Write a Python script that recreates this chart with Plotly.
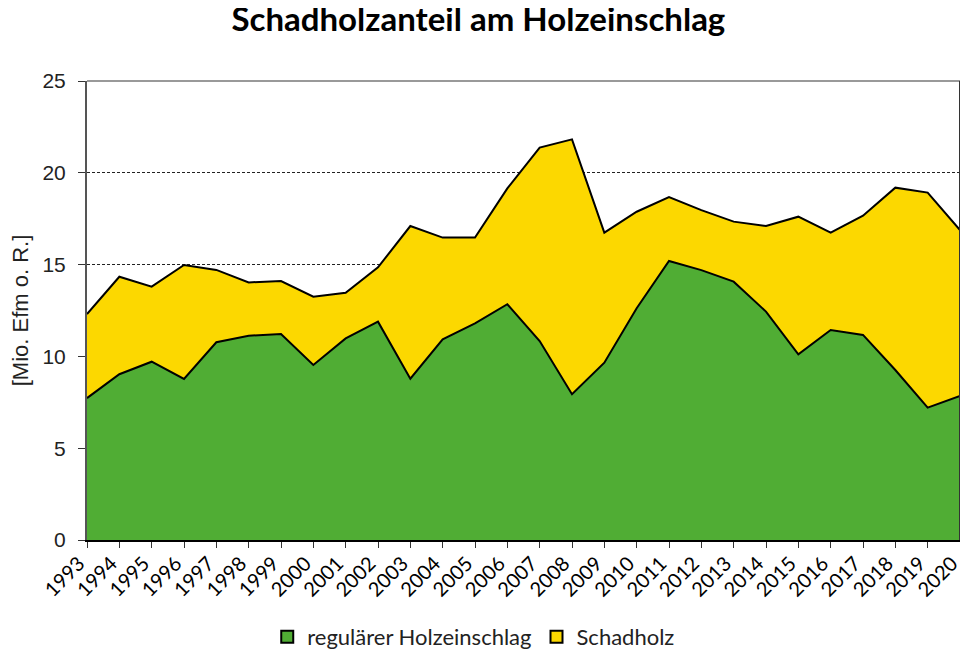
import plotly.graph_objects as go

years = list(range(1993, 2021))
regulaer = [7.73, 9.03, 9.71, 8.77, 10.77, 11.13, 11.22, 9.53, 10.98, 11.89,
            8.79, 10.93, 11.80, 12.84, 10.84, 7.94, 9.66, 12.62, 15.20, 14.70,
            14.07, 12.44, 10.11, 11.44, 11.17, 9.26, 7.21, 7.84]
gesamt = [12.31, 14.34, 13.80, 14.98, 14.71, 14.03, 14.10, 13.25, 13.47, 14.85,
          17.10, 16.47, 16.47, 19.15, 21.37, 21.82, 16.74, 17.88, 18.68, 17.97,
          17.34, 17.10, 17.61, 16.74, 17.66, 19.19, 18.92, 16.88]
schadholz = [round(g - r, 2) for g, r in zip(gesamt, regulaer)]
y_ticks = [0, 5, 10, 15, 20, 25]

GREEN = "#50AD34"
YELLOW = "#FCD800"
CAL = "Lato, Open Sans, sans-serif"
ARI = "Liberation Sans, Arial, sans-serif"

fig = go.Figure()
fig.add_trace(go.Scatter(
    x=years, y=regulaer, name="regulärer Holzeinschlag", stackgroup="one",
    mode="lines", line=dict(color="black", width=2), fillcolor=GREEN,
    showlegend=False))
fig.add_trace(go.Scatter(
    x=years, y=schadholz, name="Schadholz", stackgroup="one",
    mode="lines", line=dict(color="black", width=2), fillcolor=YELLOW,
    showlegend=False))
# legend entries (square swatches)
for nm, col in [("regulärer Holzeinschlag", GREEN), ("Schadholz", YELLOW)]:
    fig.add_trace(go.Bar(x=[None], y=[None], name=nm,
                         marker=dict(color=col, line=dict(color="black", width=2))))

fig.update_layout(
    width=960, height=649,
    paper_bgcolor="white", plot_bgcolor="white",
    margin=dict(l=79, r=8, t=73, b=117, autoexpand=False),
    font=dict(family=ARI, size=16, color="black"),
    title=dict(text="<b>Schadholzanteil am Holzeinschlag</b>",
               x=0.49, xanchor="center", y=1, yanchor="top",
               pad=dict(t=0, b=0),
               font=dict(family=CAL, size=33, color="black")),
    showlegend=True,
    legend=dict(orientation="h", x=0.443, xanchor="center", y=-0.211, yanchor="middle",
                font=dict(family=CAL, size=22, color="#222"), traceorder="normal",
                itemwidth=30),
    xaxis=dict(range=[1993, 2020], tickvals=years, ticktext=[str(y) for y in years],
               tickangle=-45, ticks="outside", ticklen=6, tickcolor="#333",
               ticklabelstandoff=-4, ticklabelshift=-8, ticklabeloverflow="allow",
               automargin=False,
               showgrid=False, showline=True, linecolor="black", linewidth=2,
               tickfont=dict(family=CAL, size=20), zeroline=False),
    yaxis=dict(range=[0, 25], tickvals=y_ticks, ticks="outside", ticklen=7,
               tickcolor="#333", showgrid=True, gridcolor="#222", gridwidth=1,
               griddash="3px,2px", showline=True, linecolor="#555", linewidth=2,
               zeroline=False, tickfont=dict(family=ARI, size=21, color="#222"),
               ticklabelstandoff=8, automargin=False,
               title=dict(text="[Mio. Efm o. R.]", font=dict(family=ARI, size=22, color="#222"),
                          standoff=22)),
)
# frame: top grey, right black
fig.add_shape(type="line", xref="paper", yref="paper", x0=0, x1=1, y0=1, y1=1,
              line=dict(color="#999", width=2), layer="above")
fig.add_shape(type="line", xref="paper", yref="paper", x0=1, x1=1, y0=0, y1=1,
              line=dict(color="#333", width=2), layer="above")

fig.write_html("out.html")
